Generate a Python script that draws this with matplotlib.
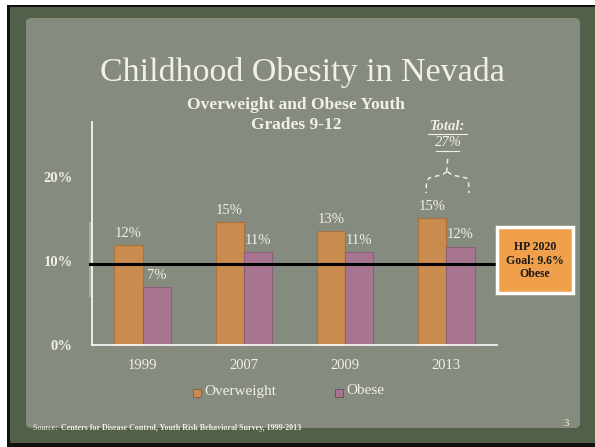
import matplotlib
matplotlib.use("Agg")
import matplotlib.pyplot as plt
from matplotlib.patches import Rectangle, FancyBboxPatch
from matplotlib.lines import Line2D
import numpy as np

years = ["1999", "2007", "2009", "2013"]
overweight = [11.9, 14.6, 13.5, 15.1]
obese = [6.9, 11.1, 11.0, 11.7]
overweight_labels = ["12%", "15%", "13%", "15%"]
obese_labels = ["7%", "11%", "11%", "12%"]
goal = 9.6
yticks = [0, 10, 20]
ytick_labels = ["0%", "10%", "20%"]

W, H = 595, 447
fig = plt.figure(figsize=(W / 100, H / 100), dpi=100)
fig.patch.set_facecolor("white")

def fx(px):
    return px / W

def fy(py):
    return 1 - py / H

SERIF = ["Liberation Serif", "DejaVu Serif"]
TXT = "#f2f0e6"

# slide background
fig.add_artist(Rectangle((fx(7), fy(447)), fx(595) - fx(7), fy(5) - fy(447),
                         transform=fig.transFigure, facecolor="#111111", edgecolor="none",
                         zorder=-30))
fig.add_artist(Rectangle((fx(10), fy(443)), fx(595) - fx(10), fy(7) - fy(443),
                         transform=fig.transFigure, facecolor="#52604a", edgecolor="none",
                         zorder=-29))
fig.add_artist(FancyBboxPatch((fx(26), fy(428)), fx(580) - fx(26), fy(18) - fy(428),
                              boxstyle="round,pad=0,rounding_size=0.01",
                              transform=fig.transFigure, facecolor="#868b7f", edgecolor="none",
                              zorder=-28))

ax = fig.add_axes([fx(92), fy(345), fx(497) - fx(92), fy(122) - fy(345)])
ax.patch.set_alpha(0)
x = np.arange(len(years))
bw = 0.28
ax.bar(x - bw / 2, overweight, bw, color="#c98b4e", edgecolor="#a9713e", linewidth=0.8,
       label="Overweight", zorder=2)
ax.bar(x + bw / 2, obese, bw, color="#a77590", edgecolor="#8c5f78", linewidth=0.8,
       label="Obese", zorder=2)
ax.set_xlim(-0.5, 3.5)
ax.set_ylim(0, 26.5)

for i in range(len(years)):
    ax.text(x[i] - bw / 2, overweight[i] + 0.6, overweight_labels[i], ha="center", va="bottom",
            color=TXT, fontsize=10.5, family=SERIF)
    ax.text(x[i] + bw / 2, obese[i] + 0.6, obese_labels[i], ha="center", va="bottom",
            color=TXT, fontsize=10.5, family=SERIF)

for s in ["top", "right"]:
    ax.spines[s].set_visible(False)
ax.spines["left"].set_color("white")
ax.spines["bottom"].set_color("white")
ax.spines["left"].set_linewidth(1.2)
ax.spines["bottom"].set_linewidth(1.2)
ax.set_yticks(yticks)
ax.set_yticklabels(ytick_labels, family=SERIF, fontweight="bold", fontsize=10.5, color=TXT)
ax.set_xticks(x)
ax.set_xticklabels(years, family=SERIF, fontsize=10.5, color=TXT)
ax.tick_params(axis="both", length=0)
ax.tick_params(axis="y", pad=14)
ax.tick_params(axis="x", pad=10)

# goal line
ax.plot([-0.52, 3.5], [goal, goal], color="black", linewidth=2.2, clip_on=False, zorder=3)

# faint light bar next to y axis
ax.plot([-0.515, -0.515], [6, 14.5], color="#a9ada3", linewidth=2, clip_on=False, zorder=1)

# goal box
fig.add_artist(Rectangle((fx(497), fy(293)), fx(573) - fx(497), fy(227) - fy(293),
                         transform=fig.transFigure, facecolor="#f0a04a", edgecolor="white",
                         linewidth=2.5))
fig.text(fx(535), fy(247), "HP 2020", ha="center", va="center",
         family=SERIF, fontweight="bold", fontsize=8.5, color="#1a1a1a")
fig.text(fx(535), fy(260.5), "Goal: 9.6%", ha="center", va="center",
         family=SERIF, fontweight="bold", fontsize=8.5, color="#1a1a1a")
fig.text(fx(535), fy(274), "Obese", ha="center", va="center",
         family=SERIF, fontweight="bold", fontsize=8.5, color="#1a1a1a")

# titles
fig.text(fx(302), fy(72), "Childhood Obesity in Nevada", ha="center", va="center",
         family=SERIF, fontsize=24.5, color=TXT)
fig.text(fx(296), fy(105), "Overweight and Obese Youth", ha="center", va="center",
         family=SERIF, fontweight="bold", fontsize=12.5, color=TXT)
fig.text(fx(296), fy(125), "Grades 9-12", ha="center", va="center",
         family=SERIF, fontweight="bold", fontsize=12.5, color=TXT)

# total annotation
fig.text(fx(448), fy(126), "Total:", ha="center", va="center", family=SERIF, fontweight="bold",
         fontstyle="italic", fontsize=10.5, color=TXT)
fig.add_artist(Line2D([fx(428), fx(467)], [fy(134), fy(134)], transform=fig.transFigure,
                      color=TXT, linewidth=0.8))
fig.text(fx(448), fy(143), "27%", ha="center", va="center", family=SERIF,
         fontstyle="italic", fontsize=10.5, color=TXT)
fig.add_artist(Line2D([fx(436), fx(459)], [fy(151), fy(151)], transform=fig.transFigure,
                      color=TXT, linewidth=0.8))

def brace(pts):
    xs = [fx(p[0]) for p in pts]
    ys = [fy(p[1]) for p in pts]
    fig.add_artist(Line2D(xs, ys, transform=fig.transFigure, color=TXT, linewidth=1.1,
                          linestyle=(0, (3, 2.5))))

brace([(447.7, 159), (446.7, 171.7)])
brace([(446.7, 171.7), (442, 175), (436.7, 176), (429, 178), (426.5, 182), (426, 193)])
brace([(447.5, 171.7), (452, 175), (456.7, 176), (466.5, 178), (468.5, 182), (469, 193)])

# legend
fig.add_artist(Rectangle((fx(193), fy(397)), fx(8) - fx(0), fy(0) - fy(8),
                         transform=fig.transFigure, facecolor="#c98b4e", edgecolor="#8a5a30",
                         linewidth=0.6))
fig.text(fx(204), fy(391), "Overweight", ha="left", va="center", family=SERIF, fontsize=11,
         color=TXT)
fig.add_artist(Rectangle((fx(335), fy(397)), fx(8) - fx(0), fy(0) - fy(8),
                         transform=fig.transFigure, facecolor="#a77590", edgecolor="#6e4860",
                         linewidth=0.6))
fig.text(fx(346), fy(391), "Obese", ha="left", va="center", family=SERIF, fontsize=11,
         color=TXT)

# source and page number
fig.text(fx(33), fy(428), "Source: ", ha="left", va="center", family=SERIF, fontsize=5.8,
         color=TXT)
fig.text(fx(61), fy(428), "Centers for Disease Control, Youth Risk Behavioral Survey, 1999-2013",
         ha="left", va="center", family=SERIF, fontsize=5.8, fontweight="bold", color=TXT)
fig.text(fx(566), fy(423), "3", ha="center", va="center", family=SERIF, fontsize=8,
         color="#f4f0c8")

fig.savefig("out.png", dpi=100, facecolor=fig.get_facecolor())
